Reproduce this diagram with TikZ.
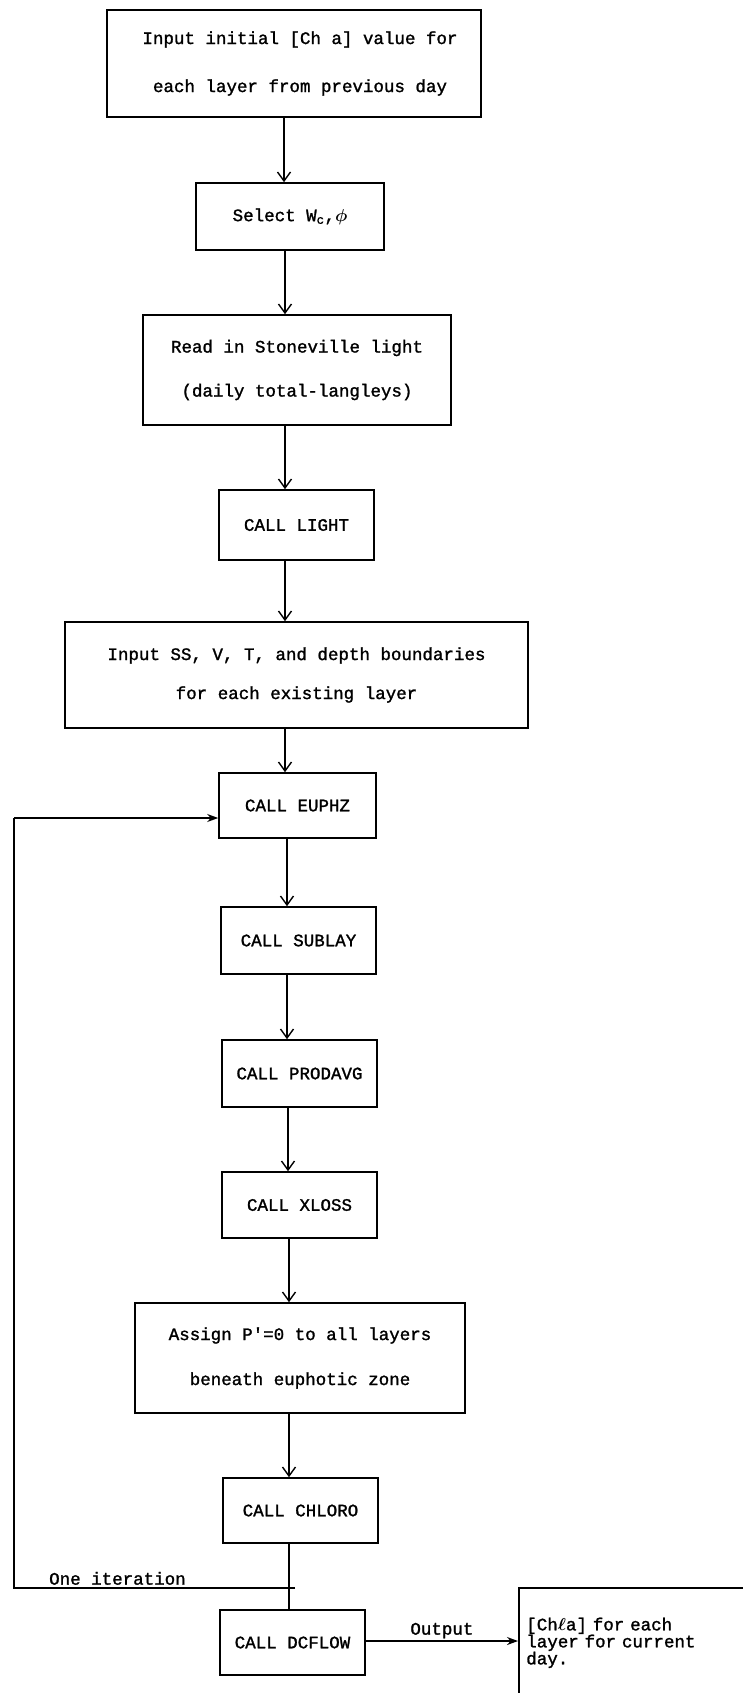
\documentclass[tikz,border=0pt]{standalone}
\usepackage{bm}
\usepackage{fontspec}
\setmainfont{Liberation Mono}[BoldFont={Liberation Mono}, BoldFeatures={FakeBold=1.4}]
\usetikzlibrary{arrows.meta}
\tikzset{
  box/.style={draw, line width=1.6pt, inner sep=2pt, align=center},
  flow/.style={line width=1.5pt, -{Straight Barb[length=9pt,width=13pt,line width=1.4pt]}},
  plain/.style={line width=1.5pt},
  filledarrow/.style={line width=1.5pt, -{Stealth[length=11pt,width=8pt]}},
  lbl/.style={inner sep=1pt}
}
\begin{document}
\begin{tikzpicture}[x=1pt,y=-1pt]
\fontsize{17.5}{20}\selectfont\bfseries
\useasboundingbox (0,0) rectangle (743,1693);
\clip (0,0) rectangle (743,1693);
\fill[white] (0,0) rectangle (743,1693);

\node[box, minimum width=374, minimum height=107] (b1) at (294,63.5)
  {\hspace*{12pt}Input initial [Ch a] value for\\[28pt]\hspace*{12pt}each layer from previous day};
\node[box, minimum width=188, minimum height=67] (sel) at (290,216.5)
  {Select W\textsubscript{c},$\bm{\phi}$};
\node[box, minimum width=308, minimum height=110] (read) at (297,370)
  {Read in Stoneville light\\[24pt](daily total-langleys)};
\node[box, minimum width=155, minimum height=70] (light) at (296.5,525)
  {CALL LIGHT};
\node[box, minimum width=463, minimum height=106] (inss) at (296.5,675)
  {Input SS, V, T, and depth boundaries\\[19pt]for each existing layer};
\node[box, minimum width=157, minimum height=65] (euphz) at (297.5,805.5)
  {CALL EUPHZ};
\node[box, minimum width=155, minimum height=67] (sublay) at (298.5,940.5)
  {CALL SUBLAY};
\node[box, minimum width=155, minimum height=67] (prodavg) at (299.5,1073.5)
  {CALL PRODAVG};
\node[box, minimum width=155, minimum height=66] (xloss) at (299.5,1205)
  {CALL XLOSS};
\node[box, minimum width=330, minimum height=110] (assign) at (300,1358)
  {Assign P\textquotesingle=0 to all layers\\[25pt]beneath euphotic zone};
\node[box, minimum width=155, minimum height=65] (chloro) at (300.5,1510.5)
  {CALL CHLORO};
\node[box, minimum width=145, minimum height=65] (dcflow) at (292.5,1642.5)
  {CALL DCFLOW};
\node[box, anchor=north west, minimum width=240, minimum height=110,
      text width=225, align=left, inner xsep=3pt, font=\fontsize{17.5}{17}\selectfont\bfseries] (out) at (518,1587)
  {[Ch$\bm{\ell}$a] for each\\layer for current\\day.};

% main chain
\coordinate (c1) at (284,0);
\coordinate (c2) at (285,0);
\coordinate (c3) at (287,0);
\coordinate (c4) at (288,0);
\coordinate (c5) at (289,0);
\draw[flow] (b1.south -| c1) -- (sel.north -| c1);
\draw[flow] (sel.south -| c2) -- (read.north -| c2);
\draw[flow] (read.south -| c2) -- (light.north -| c2);
\draw[flow] (light.south -| c2) -- (inss.north -| c2);
\draw[flow] (inss.south -| c2) -- (euphz.north -| c2);
\draw[flow] (euphz.south -| c3) -- (sublay.north -| c3);
\draw[flow] (sublay.south -| c3) -- (prodavg.north -| c3);
\draw[flow] (prodavg.south -| c4) -- (xloss.north -| c4);
\draw[flow] (xloss.south -| c5) -- (assign.north -| c5);
\draw[flow] (assign.south -| c5) -- (chloro.north -| c5);
\draw[plain] (chloro.south -| c5) -- (dcflow.north -| c5);

% loop
\coordinate (lr) at (295,1588);
\coordinate (ll) at (14,1588);
\coordinate (lt) at (14,818);
\draw[plain] (lr) -- (ll) -- (lt);
\draw[filledarrow] (lt) -- (euphz.west |- lt);
\node[lbl, anchor=south west] (iter) at (48,1586) {One iteration};

% output
\coordinate (oy) at (0,1641);
\draw[filledarrow] (dcflow.east |- oy) -- (out.west |- oy) node[midway, above=1pt, lbl] (outl) {Output};
\end{tikzpicture}
\end{document}
